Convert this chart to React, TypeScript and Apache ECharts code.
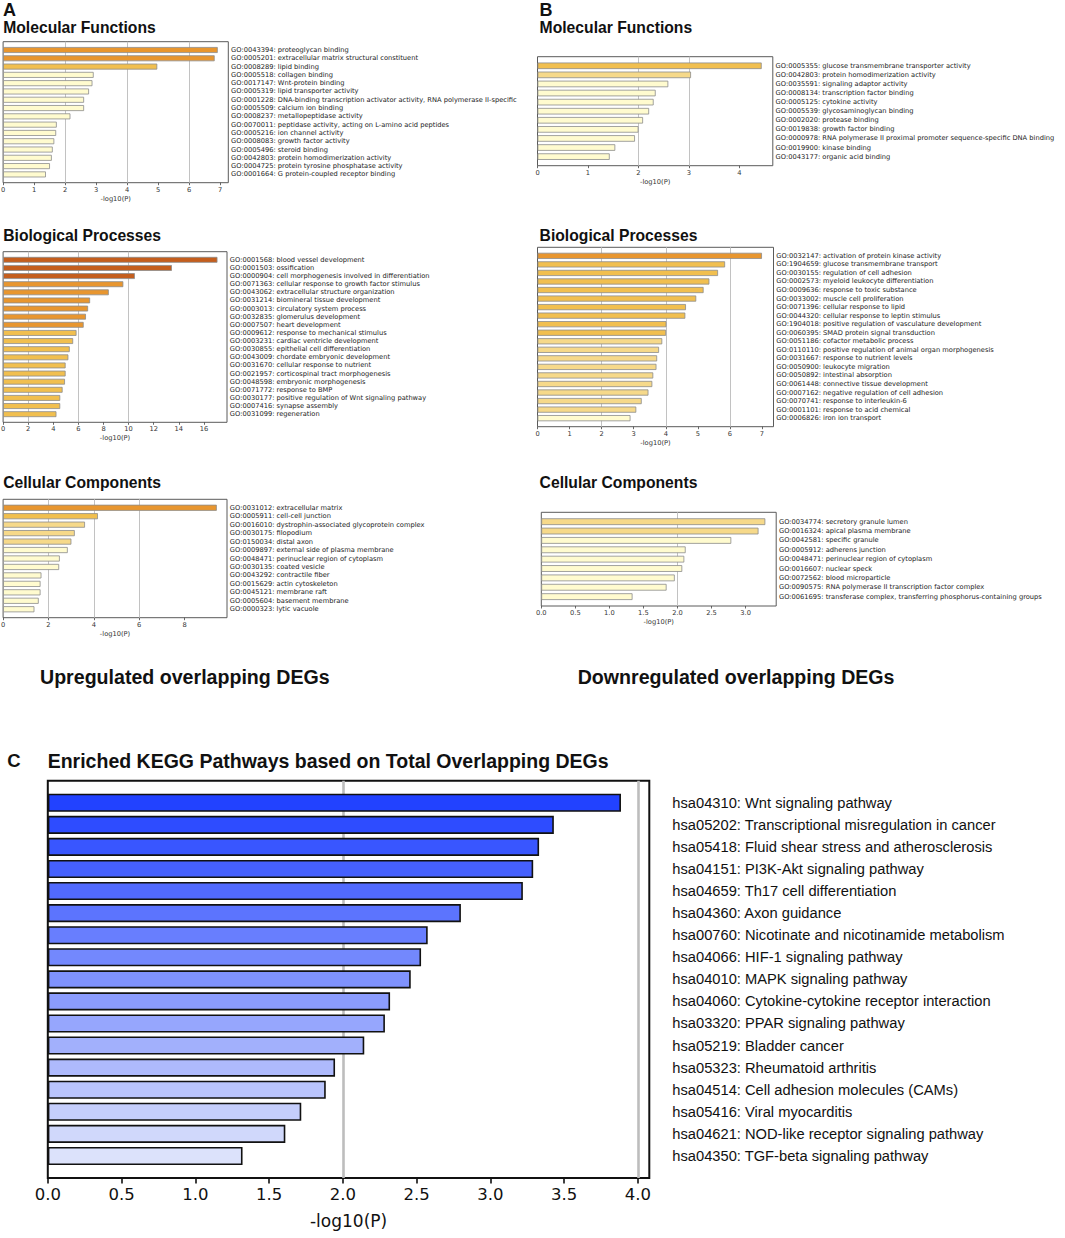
import React, { useEffect, useRef } from "react";
import * as echarts from "echarts";

// ---------------- DATA ----------------
const A_MF_TERMS = [
  "GO:0043394: proteoglycan binding",
  "GO:0005201: extracellular matrix structural constituent",
  "GO:0008289: lipid binding",
  "GO:0005518: collagen binding",
  "GO:0017147: Wnt-protein binding",
  "GO:0005319: lipid transporter activity",
  "GO:0001228: DNA-binding transcription activator activity, RNA polymerase II-specific",
  "GO:0005509: calcium ion binding",
  "GO:0008237: metallopeptidase activity",
  "GO:0070011: peptidase activity, acting on L-amino acid peptides",
  "GO:0005216: ion channel activity",
  "GO:0008083: growth factor activity",
  "GO:0005496: steroid binding",
  "GO:0042803: protein homodimerization activity",
  "GO:0004725: protein tyrosine phosphatase activity",
  "GO:0001664: G protein-coupled receptor binding",
];
const A_MF_VALUES = [6.92, 6.82, 4.97, 2.92, 2.88, 2.77, 2.61, 2.61, 2.17, 1.73, 1.71, 1.65, 1.6, 1.57, 1.51, 1.38];

const A_BP_TERMS = [
  "GO:0001568: blood vessel development",
  "GO:0001503: ossification",
  "GO:0000904: cell morphogenesis involved in differentiation",
  "GO:0071363: cellular response to growth factor stimulus",
  "GO:0043062: extracellular structure organization",
  "GO:0031214: biomineral tissue development",
  "GO:0003013: circulatory system process",
  "GO:0032835: glomerulus development",
  "GO:0007507: heart development",
  "GO:0009612: response to mechanical stimulus",
  "GO:0003231: cardiac ventricle development",
  "GO:0030855: epithelial cell differentiation",
  "GO:0043009: chordate embryonic development",
  "GO:0031670: cellular response to nutrient",
  "GO:0021957: corticospinal tract morphogenesis",
  "GO:0048598: embryonic morphogenesis",
  "GO:0071772: response to BMP",
  "GO:0030177: positive regulation of Wnt signaling pathway",
  "GO:0007416: synapse assembly",
  "GO:0031099: regeneration",
];
const A_BP_VALUES = [17.08, 13.45, 10.5, 9.58, 8.42, 6.93, 6.77, 6.6, 6.42, 5.85, 5.58, 5.31, 5.2, 4.98, 4.98, 4.93, 4.74, 4.55, 4.55, 4.25];

const A_CC_TERMS = [
  "GO:0031012: extracellular matrix",
  "GO:0005911: cell-cell junction",
  "GO:0016010: dystrophin-associated glycoprotein complex",
  "GO:0030175: filopodium",
  "GO:0150034: distal axon",
  "GO:0009897: external side of plasma membrane",
  "GO:0048471: perinuclear region of cytoplasm",
  "GO:0030135: coated vesicle",
  "GO:0043292: contractile fiber",
  "GO:0015629: actin cytoskeleton",
  "GO:0045121: membrane raft",
  "GO:0005604: basement membrane",
  "GO:0000323: lytic vacuole",
];
const A_CC_VALUES = [9.42, 4.18, 3.61, 3.16, 3.01, 2.85, 2.5, 2.47, 1.69, 1.65, 1.65, 1.57, 1.38];

const B_MF_TERMS = [
  "GO:0005355: glucose transmembrane transporter activity",
  "GO:0042803: protein homodimerization activity",
  "GO:0035591: signaling adaptor activity",
  "GO:0008134: transcription factor binding",
  "GO:0005125: cytokine activity",
  "GO:0005539: glycosaminoglycan binding",
  "GO:0002020: protease binding",
  "GO:0019838: growth factor binding",
  "GO:0000978: RNA polymerase II proximal promoter sequence-specific DNA binding",
  "GO:0019900: kinase binding",
  "GO:0043177: organic acid binding",
];
const B_MF_VALUES = [4.44, 3.04, 2.59, 2.34, 2.3, 2.21, 2.09, 2.0, 1.93, 1.54, 1.43];

const B_BP_TERMS = [
  "GO:0032147: activation of protein kinase activity",
  "GO:1904659: glucose transmembrane transport",
  "GO:0030155: regulation of cell adhesion",
  "GO:0002573: myeloid leukocyte differentiation",
  "GO:0009636: response to toxic substance",
  "GO:0033002: muscle cell proliferation",
  "GO:0071396: cellular response to lipid",
  "GO:0044320: cellular response to leptin stimulus",
  "GO:1904018: positive regulation of vasculature development",
  "GO:0060395: SMAD protein signal transduction",
  "GO:0051186: cofactor metabolic process",
  "GO:0110110: positive regulation of animal organ morphogenesis",
  "GO:0031667: response to nutrient levels",
  "GO:0050900: leukocyte migration",
  "GO:0050892: intestinal absorption",
  "GO:0061448: connective tissue development",
  "GO:0007162: negative regulation of cell adhesion",
  "GO:0070741: response to interleukin-6",
  "GO:0001101: response to acid chemical",
  "GO:0006826: iron ion transport",
];
const B_BP_VALUES = [7.0, 5.85, 5.63, 5.36, 5.18, 4.95, 4.63, 4.61, 4.02, 4.01, 3.89, 3.79, 3.73, 3.71, 3.61, 3.58, 3.46, 3.25, 3.08, 2.9];

const B_CC_TERMS = [
  "GO:0034774: secretory granule lumen",
  "GO:0016324: apical plasma membrane",
  "GO:0042581: specific granule",
  "GO:0005912: adherens junction",
  "GO:0048471: perinuclear region of cytoplasm",
  "GO:0016607: nuclear speck",
  "GO:0072562: blood microparticle",
  "GO:0090575: RNA polymerase II transcription factor complex",
  "GO:0061695: transferase complex, transferring phosphorus-containing groups",
];
const B_CC_VALUES = [3.29, 3.19, 2.79, 2.12, 2.1, 2.07, 1.96, 1.84, 1.34];

const KEGG_TERMS = [
  "hsa04310: Wnt signaling pathway",
  "hsa05202: Transcriptional misregulation in cancer",
  "hsa05418: Fluid shear stress and atherosclerosis",
  "hsa04151: PI3K-Akt signaling pathway",
  "hsa04659: Th17 cell differentiation",
  "hsa04360: Axon guidance",
  "hsa00760: Nicotinate and nicotinamide metabolism",
  "hsa04066: HIF-1 signaling pathway",
  "hsa04010: MAPK signaling pathway",
  "hsa04060: Cytokine-cytokine receptor interaction",
  "hsa03320: PPAR signaling pathway",
  "hsa05219: Bladder cancer",
  "hsa05323: Rheumatoid arthritis",
  "hsa04514: Cell adhesion molecules (CAMs)",
  "hsa05416: Viral myocarditis",
  "hsa04621: NOD-like receptor signaling pathway",
  "hsa04350: TGF-beta signaling pathway",
];
const KEGG_VALUES = [3.885, 3.43, 3.33, 3.29, 3.22, 2.8, 2.575, 2.53, 2.46, 2.32, 2.285, 2.145, 1.947, 1.884, 1.718, 1.61, 1.32];

// reference grid-line positions per panel
const A_MF_GRIDLINES = [2, 4, 6];
const A_BP_GRIDLINES = [2, 6, 10];
const A_CC_GRIDLINES = [2, 4, 6];
const B_MF_GRIDLINES = [2, 3];
const B_BP_GRIDLINES = [2, 4, 6];
const B_CC_GRIDLINES = [2];
const KEGG_GRIDLINES = [2, 4];

// ---------------- STYLE ----------------
const GO_THRESHOLDS = [3, 4, 6, 10];
const GO_COLORS = ["#FFFBCF", "#F6D98A", "#F1BF4F", "#E8962F", "#C45E1D"];
const goColor = (v: number) => GO_COLORS[GO_THRESHOLDS.filter((t) => v >= t).length];

const KEGG_DARK = [34, 66, 255];
const KEGG_LIGHT = [220, 226, 251];
const keggColor = (i: number, n: number) => {
  const t = n > 1 ? i / (n - 1) : 0;
  const c = KEGG_DARK.map((d, k) => Math.round(d + (KEGG_LIGHT[k] - d) * t));
  return `rgb(${c[0]},${c[1]},${c[2]})`;
};

const GO_FONT = "DejaVu Sans";
const SANS = "Liberation Sans, Arial, Helvetica, sans-serif";

type Panel = {
  terms: string[];
  values: number[];
  max: number;
  interval: number;
  gridLines: number[];
  box: [number, number, number, number]; // left, top, right, bottom
  kind: "go" | "kegg";
  decimals: number;
};

const PANELS: Panel[] = [
  { terms: A_MF_TERMS, values: A_MF_VALUES, max: 7.26, interval: 1, gridLines: A_MF_GRIDLINES, box: [3.1, 41.7, 228.3, 182.7], kind: "go", decimals: 0 },
  { terms: A_BP_TERMS, values: A_BP_VALUES, max: 17.84, interval: 2, gridLines: A_BP_GRIDLINES, box: [3.1, 251.7, 227, 422.3], kind: "go", decimals: 0 },
  { terms: A_CC_TERMS, values: A_CC_VALUES, max: 9.87, interval: 2, gridLines: A_CC_GRIDLINES, box: [3.1, 499.3, 227, 617.7], kind: "go", decimals: 0 },
  { terms: B_MF_TERMS, values: B_MF_VALUES, max: 4.66, interval: 1, gridLines: B_MF_GRIDLINES, box: [537.5, 56.7, 772.8, 165.7], kind: "go", decimals: 0 },
  { terms: B_BP_TERMS, values: B_BP_VALUES, max: 7.36, interval: 1, gridLines: B_BP_GRIDLINES, box: [537.5, 247.3, 773.5, 426.7], kind: "go", decimals: 0 },
  { terms: B_CC_TERMS, values: B_CC_VALUES, max: 3.45, interval: 0.5, gridLines: B_CC_GRIDLINES, box: [541.3, 512.3, 776.2, 606], kind: "go", decimals: 1 },
  { terms: KEGG_TERMS, values: KEGG_VALUES, max: 4.077, interval: 0.5, gridLines: KEGG_GRIDLINES, box: [47.8, 780.7, 649.3, 1178], kind: "kegg", decimals: 1 },
];

const TEXTS: { text: string; x: number; y: number; size: number }[] = [
  { text: "A", x: 3, y: 10, size: 18 },
  { text: "Molecular Functions", x: 3.2, y: 27.5, size: 15.7 },
  { text: "Biological Processes", x: 3.2, y: 235, size: 15.7 },
  { text: "Cellular Components", x: 3.2, y: 482.7, size: 15.7 },
  { text: "Upregulated overlapping DEGs", x: 40, y: 677, size: 19.6 },
  { text: "B", x: 539.6, y: 10, size: 18 },
  { text: "Molecular Functions", x: 539.6, y: 27.5, size: 15.7 },
  { text: "Biological Processes", x: 539.6, y: 235, size: 15.7 },
  { text: "Cellular Components", x: 539.6, y: 482.7, size: 15.7 },
  { text: "Downregulated overlapping DEGs", x: 577.7, y: 677, size: 19.6 },
  { text: "C", x: 7.3, y: 760.5, size: 18.5 },
  { text: "Enriched KEGG Pathways based on Total Overlapping DEGs", x: 47.7, y: 761, size: 19.5 },
];

function buildOption() {
  const grid: any[] = [];
  const xAxis: any[] = [];
  const yAxis: any[] = [];
  const series: any[] = [];

  PANELS.forEach((p, i) => {
    const [l, t, r, b] = p.box;
    const kegg = p.kind === "kegg";
    grid.push({
      left: l,
      top: t,
      width: r - l,
      height: b - t,
      show: true,
      backgroundColor: "transparent",
      borderColor: kegg ? "#111" : "#5a5a5a",
      borderWidth: kegg ? 2 : 1,
      containLabel: false,
      outerBoundsMode: "none",
    });
    xAxis.push({
      type: "value",
      gridIndex: i,
      min: 0,
      max: p.max,
      interval: p.interval,
      axisLine: { show: false },
      splitLine: { show: false },
      axisTick: {
        show: true,
        length: kegg ? 5.5 : 2.5,
        lineStyle: { color: kegg ? "#111" : "#444", width: kegg ? 1.6 : 0.8 },
      },
      axisLabel: {
        showMaxLabel: false,
        fontFamily: GO_FONT,
        fontSize: kegg ? 16.5 : 6.7,
        color: kegg ? "#111" : "#333",
        margin: kegg ? 8 : 3.5,
        formatter: (v: number) => v.toFixed(p.decimals),
      },
      name: "-log10(P)",
      nameLocation: "middle",
      nameGap: kegg ? 34 : 12.5,
      nameTextStyle: {
        fontFamily: GO_FONT,
        fontSize: kegg ? 17 : 6.7,
        color: kegg ? "#111" : "#333",
      },
    });
    yAxis.push({
      type: "category",
      gridIndex: i,
      inverse: true,
      position: "right",
      boundaryGap: false,
      data: ["", ...p.terms, " "],
      axisLine: { show: false },
      axisTick: { show: false },
      splitLine: { show: false },
      axisLabel: {
        interval: 0,
        align: "left",
        margin: kegg ? 23 : 2.8,
        fontFamily: kegg ? SANS : GO_FONT,
        fontSize: kegg ? 14.7 : 6.7,
        color: kegg ? "#111" : "#222",
      },
    });
    series.push({
      type: "bar",
      xAxisIndex: i,
      yAxisIndex: i,
      z: 3,
      barWidth: kegg ? "82%" : "72%",
      data: [
        "-",
        ...p.values.map((v, k) => ({
          value: v,
          itemStyle: { color: kegg ? keggColor(k, p.values.length) : goColor(v) },
        })),
        "-",
      ],
      itemStyle: {
        borderColor: kegg ? "#111" : "#8c8c8c",
        borderWidth: kegg ? 1.6 : 0.8,
      },
      markLine: {
        silent: true,
        z: 1,
        symbol: ["none", "none"],
        label: { show: false },
        emphasis: { disabled: true },
        lineStyle: {
          type: "solid",
          color: kegg ? "#bdbdbd" : "#c2c2c2",
          width: kegg ? 2.6 : 1,
        },
        data: p.gridLines.map((v) => ({ xAxis: v })),
      },
    });
  });

  const graphic = TEXTS.map((t) => ({
    type: "text",
    x: t.x,
    y: t.y,
    silent: true,
    style: {
      text: t.text,
      font: `bold ${t.size}px ${SANS}`,
      fill: "#111",
      textAlign: "left",
      textVerticalAlign: "middle",
      align: "left",
      verticalAlign: "middle",
    },
  }));

  return {
    animation: false,
    backgroundColor: "#ffffff",
    grid,
    xAxis,
    yAxis,
    series,
    graphic: { elements: graphic },
  };
}

export default function App() {
  const ref = useRef<HTMLDivElement>(null);
  useEffect(() => {
    if (!ref.current) return;
    const chart = echarts.init(ref.current, null, { renderer: "svg", width: 1065, height: 1238 });
    chart.setOption(buildOption() as any);
    return () => chart.dispose();
  }, []);
  return (
    <div
      ref={ref}
      style={{ position: "absolute", left: 0, top: 0, width: 1065, height: 1238, background: "#fff" }}
    />
  );
}
